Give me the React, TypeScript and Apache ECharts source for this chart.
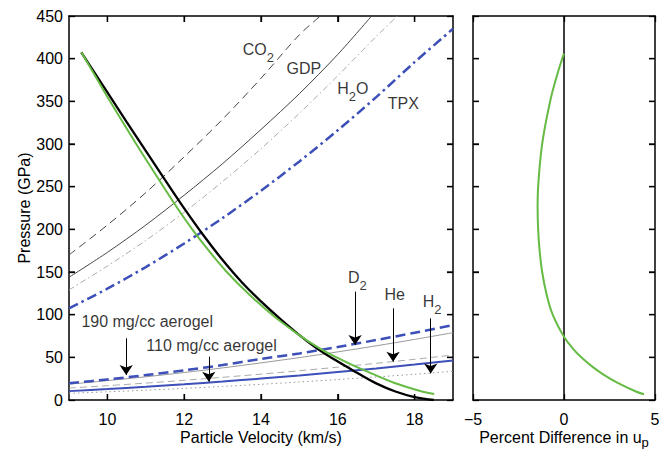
import React, { useEffect, useRef } from 'react';
import * as echarts from 'echarts';

const FONT = '"Liberation Sans", Arial, Helvetica, sans-serif';

// Axis ticks
const velocityTicks = [10, 12, 14, 16, 18];
const pressureTicks = [50, 100, 150, 200, 250, 300, 350, 400];
const percentTicks = [-5, 0, 5];

// Upper Hugoniots
const co2U = [9, 10, 11, 12, 13, 14, 15, 15.6];
const co2P = [170, 205, 243, 285, 329, 377, 428, 452];
const gdpU = [9, 10, 11, 12, 13, 14, 15, 16, 16.9];
const gdpP = [143.8, 173, 205, 240, 277, 317, 359, 405, 451];
const h2oU = [9, 10, 11, 12, 13, 14, 15, 16, 17, 17.6];
const h2oP = [129, 157, 187, 220, 256, 294.5, 336, 380, 426, 452];
const tpxU = [9, 10, 11, 12, 13, 14, 15, 16, 17, 18, 19];
const tpxP = [107.4, 130.5, 155.8, 183.4, 213.2, 245.3, 279.6, 316.1, 354.9, 395.9, 435];

// Lower Hugoniots
const lowU = [9, 10, 11, 12, 13, 14, 15, 16, 17, 18, 19];
const aerogel190P = [19.5, 24.1, 29.2, 34.8, 40.9, 48.2, 54.6, 62.2, 70.3, 78.8, 87.9];
const d2P = [18.5, 22.7, 27.2, 32.2, 37.6, 43.5, 49.7, 56.4, 63.5, 71, 78.9];
const heP = [14, 16.8, 19.8, 23.1, 26.6, 30.3, 34.3, 38.5, 43, 47.7, 52.7];
const aerogel110P = [10.4, 12.8, 15.5, 18.4, 21.6, 25.1, 28.8, 32.8, 37, 41.5, 46.4];
const h2P = [7.8, 9.6, 11.5, 13.6, 15.9, 18.4, 21.1, 24, 27, 30.2, 33.6];

// Decreasing curves
const blackU = [9.32, 10, 10.5, 11, 11.5, 12, 12.5, 13, 13.5, 14, 14.5, 15, 15.5, 16, 16.5, 17, 17.5, 18, 18.5];
const blackP = [407.5, 360.5, 326, 292, 258, 224.5, 193, 164, 138, 115.5, 95, 76, 59, 45, 32, 19.5, 10, 3.5, 0];
const greenU = [9.32, 9.42, 9.68, 10.07, 10.75, 11.46, 11.82, 12.21, 12.64, 13.11, 13.66, 14.29, 15.06, 15.55, 15.97, 16.43, 16.94, 17.48, 18.19, 18.51];
const greenP = [407.5, 400, 380, 350, 300, 250, 225, 200, 175, 150, 125, 100, 74, 60, 50, 40, 30, 20, 10, 7];

// Percent difference panel
const pdP = [406, 400, 380, 350, 300, 250, 225, 200, 175, 150, 125, 100, 74, 60, 50, 40, 30, 20, 10, 6.7];
const pdPct = [0, -0.1, -0.39, -0.76, -1.2, -1.42, -1.45, -1.42, -1.34, -1.2, -0.97, -0.62, 0, 0.5, 0.95, 1.5, 2.15, 2.95, 3.95, 4.4];

// Annotations
const labelTexts = ['CO{s|2}', 'GDP', 'H{s|2}O', 'TPX', 'D{s|2}', 'He', 'H{s|2}', '190 mg/cc aerogel', '110 mg/cc aerogel'];
const labelU = [13.51, 14.65, 15.97, 17.29, 16.25, 17.2, 18.2, 9.31, 11.0];
const labelP = [411, 389, 365.6, 348, 143.6, 124, 116, 91.8, 63.5];

// Arrows
const arrowU = [10.49, 12.64, 16.45, 17.44, 18.42];
const arrowFrom = [72.3, 50.8, 127, 107.4, 95.7];
const arrowTo = [29.3, 21.5, 64.5, 44.9, 31.2];

const BLUE = '#3d4fb8';
const GREEN = '#66bb44';
const TXT = '#000';

// layout
const G0 = { left: 69, top: 16, width: 384, height: 384 };
const G1 = { left: 473, top: 16, width: 182, height: 384 };
const TICK_PX = 6;

const zip = (a: number[], b: number[]) => a.map((v, i) => [v, b[i]]);

const rich = {
  s: { fontSize: 13, fontFamily: FONT, color: TXT, lineHeight: 13, padding: [16, 0, 0, 0] },
};
const richName = {
  s: { fontSize: 13, fontFamily: FONT, color: TXT, lineHeight: 13, padding: [11, 0, 0, 0] },
};

export default function App() {
  const ref = useRef<HTMLDivElement>(null);
  useEffect(() => {
    if (!ref.current) return;
    const chart = echarts.init(ref.current, undefined, { renderer: 'svg' });

    const frameLine = { show: true, onZero: false, lineStyle: { color: '#000', width: 1.5 } };
    const tick = { show: true, inside: true, length: TICK_PX, lineStyle: { color: '#000', width: 1.3 } };
    const labelStyle = { color: TXT, fontSize: 16, fontFamily: FONT };

    const line = (name: string, u: number[], p: number[], color: string, width: number, type: any, smooth = 0.3) => ({
      name,
      type: 'line',
      xAxisIndex: 0,
      yAxisIndex: 0,
      data: zip(u, p),
      showSymbol: false,
      symbol: 'none',
      smooth,
      clip: true,
      lineStyle: { color, width, type },
      z: 2,
    });

    chart.setOption({
      animation: false,
      grid: [
        { ...G0, outerBoundsMode: 'none', containLabel: false },
        { ...G1, outerBoundsMode: 'none', containLabel: false },
      ],
      xAxis: [
        {
          type: 'value', gridIndex: 0, min: 9, max: 19, position: 'bottom',
          axisLine: frameLine,
          axisTick: { ...tick, customValues: velocityTicks },
          axisLabel: { ...labelStyle, margin: 11, customValues: velocityTicks },
          splitLine: { show: false },
          name: 'Particle Velocity (km/s)', nameLocation: 'middle', nameGap: 28, nameMoveOverlap: false,
          nameTextStyle: { ...labelStyle, lineHeight: 18 },
        },
        {
          type: 'value', gridIndex: 0, min: 9, max: 19, position: 'top',
          axisLine: frameLine, axisTick: { ...tick, customValues: velocityTicks },
          axisLabel: { show: false }, splitLine: { show: false },
        },
        {
          type: 'value', gridIndex: 1, min: -5, max: 5, interval: 5, position: 'bottom',
          axisLine: frameLine,
          axisTick: tick,
          axisLabel: { ...labelStyle, margin: 11, formatter: (v: number) => (v < 0 ? '\u2212' + Math.abs(v) : String(v)) },
          splitLine: { show: false },
        },
        {
          type: 'value', gridIndex: 1, min: -5, max: 5, interval: 5, position: 'top',
          axisLine: frameLine, axisTick: tick, axisLabel: { show: false }, splitLine: { show: false },
        },
      ],
      yAxis: [
        {
          type: 'value', gridIndex: 0, min: 0, max: 450, interval: 50, position: 'left',
          axisLine: frameLine, axisTick: tick,
          axisLabel: { ...labelStyle, margin: 6 },
          splitLine: { show: false },
          name: 'Pressure (GPa)', nameLocation: 'middle', nameGap: 36, nameMoveOverlap: false,
          nameTextStyle: { ...labelStyle, lineHeight: 18 },
        },
        {
          type: 'value', gridIndex: 0, min: 0, max: 450, interval: 50, position: 'right',
          axisLine: frameLine, axisTick: tick, axisLabel: { show: false }, splitLine: { show: false },
        },
        {
          type: 'value', gridIndex: 1, min: 0, max: 450, interval: 50, position: 'left',
          axisLine: frameLine, axisTick: tick, axisLabel: { show: false }, splitLine: { show: false },
        },
        {
          type: 'value', gridIndex: 1, min: 0, max: 450, interval: 50, position: 'right',
          axisLine: frameLine, axisTick: tick, axisLabel: { show: false }, splitLine: { show: false },
        },
      ],
      series: [
        line('CO2', co2U, co2P, '#444', 1, [8, 5]),
        line('GDP', gdpU, gdpP, '#444', 1, 'solid'),
        line('H2O', h2oU, h2oP, '#aaa', 1, [6, 3, 1.5, 3]),
        line('TPX', tpxU, tpxP, BLUE, 2.5, [10, 4, 2.5, 4]),
        line('D2', lowU, d2P, '#999', 1, 'solid'),
        line('He', lowU, heP, '#aaa', 1, [7, 4]),
        line('H2', lowU, h2P, '#999', 1, [1.5, 3]),
        line('190 mg/cc aerogel', lowU, aerogel190P, BLUE, 2.5, [10, 5]),
        line('110 mg/cc aerogel', lowU, aerogel110P, BLUE, 2, 'solid'),
        { ...line('model', blackU, blackP, '#000', 2.3, 'solid', 0.4), z: 3 },
        { ...line('fit', greenU, greenP, GREEN, 2, 'solid', 0.4), z: 4 },
        {
          name: 'arrows',
          type: 'lines',
          coordinateSystem: 'cartesian2d',
          xAxisIndex: 0,
          yAxisIndex: 0,
          symbol: ['none', 'arrow'],
          symbolSize: [6, 10],
          lineStyle: { color: '#000', width: 1, opacity: 1 },
          data: arrowU.map((u, i) => ({ coords: [[u, arrowFrom[i]], [u, arrowTo[i]]] })),
          z: 5,
        },
        {
          name: 'labels',
          type: 'scatter',
          xAxisIndex: 0,
          yAxisIndex: 0,
          symbolSize: 1,
          itemStyle: { color: 'rgba(0,0,0,0)' },
          silent: true,
          data: labelTexts.map((t, i) => ({
            value: [labelU[i], labelP[i]],
            label: {
              show: true,
              position: 'right',
              distance: 0,
              formatter: t,
              color: TXT,
              fontSize: 16,
              fontFamily: FONT,
              lineHeight: 18,
              rich,
            },
          })),
          z: 6,
        },
        {
          name: 'zero',
          type: 'line',
          xAxisIndex: 2,
          yAxisIndex: 2,
          data: [[0, 0], [0, 450]],
          showSymbol: false,
          symbol: 'none',
          lineStyle: { color: '#000', width: 1.5 },
          z: 2,
        },
        {
          name: 'percent difference',
          type: 'line',
          xAxisIndex: 2,
          yAxisIndex: 2,
          data: zip(pdPct, pdP),
          showSymbol: false,
          symbol: 'none',
          smooth: 0.4,
          lineStyle: { color: GREEN, width: 2 },
          z: 3,
        },
      ],
    });

    // Mirrored inward ticks (also drawn through the chart's coordinate conversion)
    const tickStyle = { stroke: '#000', lineWidth: 1.3 };
    const elems: any[] = [];
    const addTicks = (gridIndex: number, xTicks: number[], yTicks: number[], xr: number[], yr: number[]) => {
      xTicks.forEach((v) => {
        const b = chart.convertToPixel({ gridIndex }, [v, yr[0]]) as number[];
        const t = chart.convertToPixel({ gridIndex }, [v, yr[1]]) as number[];
        elems.push({ type: 'line', z: 100, silent: true, shape: { x1: b[0], y1: b[1], x2: b[0], y2: b[1] - TICK_PX }, style: { ...tickStyle } });
        elems.push({ type: 'line', z: 100, silent: true, shape: { x1: t[0], y1: t[1], x2: t[0], y2: t[1] + TICK_PX }, style: { ...tickStyle } });
      });
      yTicks.forEach((v) => {
        const l = chart.convertToPixel({ gridIndex }, [xr[0], v]) as number[];
        const r = chart.convertToPixel({ gridIndex }, [xr[1], v]) as number[];
        elems.push({ type: 'line', z: 100, silent: true, shape: { x1: l[0], y1: l[1], x2: l[0] + TICK_PX, y2: l[1] }, style: { ...tickStyle } });
        elems.push({ type: 'line', z: 100, silent: true, shape: { x1: r[0], y1: r[1], x2: r[0] - TICK_PX, y2: r[1] }, style: { ...tickStyle } });
      });
    };
    addTicks(0, velocityTicks, pressureTicks, [9, 19], [0, 450]);
    addTicks(1, [], pressureTicks, [-5, 5], [0, 450]);

    const c = chart.convertToPixel({ gridIndex: 1 }, [0, 0]) as number[];
    elems.push({
      type: 'text',
      z: 100,
      silent: true,
      x: c[0],
      y: c[1] + 37,
      style: {
        text: 'Percent Difference in u{s|p}',
        fill: TXT,
        fontSize: 16,
        fontFamily: FONT,
        lineHeight: 18,
        align: 'center',
        verticalAlign: 'middle',
        rich: richName,
      },
    });

    chart.setOption({ graphic: { elements: elems } });
    return () => chart.dispose();
  }, []);
  return <div ref={ref} style={{ position: 'fixed', left: 0, top: 0, width: 663, height: 449, background: '#fff' }} />;
}
